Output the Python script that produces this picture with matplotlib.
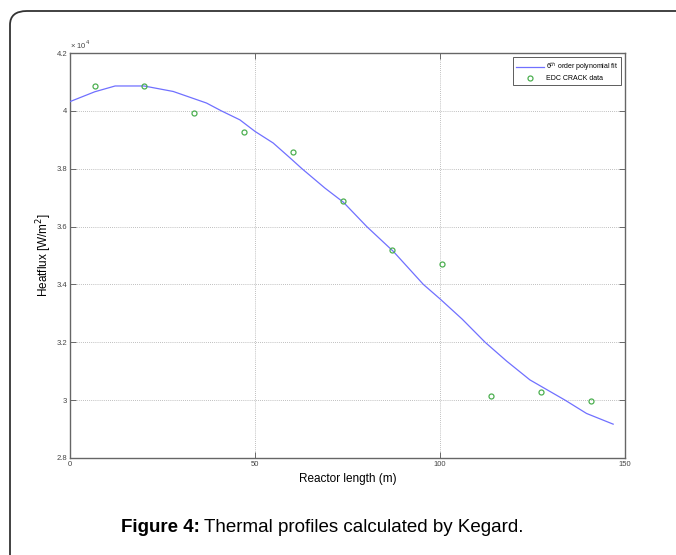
import matplotlib
matplotlib.use("Agg")
import matplotlib.pyplot as plt
from matplotlib.patches import FancyBboxPatch

plt.rcParams['font.family'] = ['Liberation Sans', 'DejaVu Sans']

# Data (values in units of 1e4 W/m^2)
data_x = [6.7, 20.1, 33.5, 46.9, 60.3, 73.7, 87.1, 100.5, 113.9, 127.3, 140.7]
data_y = [4.087, 4.087, 3.993, 3.926, 3.857, 3.688, 3.519, 3.470, 3.014, 3.029, 2.997]

fit_x = [0, 6.7, 12.2, 20, 27.9, 36.9, 40.9, 45.9, 50, 54.9, 59.5, 62.7, 68.9,
         73.9, 80.2, 87.4, 95.5, 100, 106, 112.2, 118, 124.3, 133.8, 139.6, 146.8]
fit_y = [4.032, 4.066, 4.086, 4.086, 4.067, 4.027, 4.0, 3.969, 3.929, 3.889, 3.837, 3.8, 3.733,
         3.684, 3.6, 3.514, 3.4, 3.35, 3.28, 3.2, 3.135, 3.070, 3.0, 2.954, 2.917]

xticks = [0, 50, 100, 150]
yticks = [2.8, 3.0, 3.2, 3.4, 3.6, 3.8, 4.0, 4.2]
ytick_labels = ['2.8', '3', '3.2', '3.4', '3.6', '3.8', '4', '4.2']

W, H = 676, 555
fig = plt.figure(figsize=(W / 100, H / 100), dpi=100)

# outer rounded frame (cropped at right and bottom)
frame = FancyBboxPatch((10 / W, -0.2), 1.2, (H - 11) / H + 0.2,
                       boxstyle="round,pad=0,rounding_size=0.025",
                       transform=fig.transFigure, fill=False,
                       edgecolor='#333333', linewidth=1.3, zorder=0)
fig.patches.append(frame)

ax = fig.add_axes([70 / W, 1 - 458 / H, (625 - 70) / W, (458 - 53) / H])

ax.plot(fit_x, fit_y, color='#7070ff', linewidth=0.9,
        label='6$^{th}$ order polynomial fit', zorder=3)
ax.plot(data_x, data_y, linestyle='none', marker='o', markersize=3.6,
        markerfacecolor='none', markeredgecolor='#4caf50', markeredgewidth=0.9,
        label='EDC CRACK data', zorder=4)

ax.set_xlim(0, 150)
ax.set_ylim(2.8, 4.2)
ax.set_xticks(xticks)
ax.set_yticks(yticks)
ax.set_yticklabels(ytick_labels)
ax.tick_params(direction='in', length=4, width=0.6, colors='#555555',
               labelsize=5.5, top=True, right=True, pad=2)
ax.tick_params(axis='x', labelcolor='#444444')
ax.tick_params(axis='y', labelcolor='#444444')
for s in ax.spines.values():
    s.set_color('#666666')
    s.set_linewidth(1.0)
ax.grid(True, linestyle=(0, (1, 1.5)), color='#aaaaaa', linewidth=0.6)

ax.text(0.0, 1.005, '× 10$^4$', transform=ax.transAxes, fontsize=5.5,
        color='#444444', ha='left', va='bottom')

ax.set_xlabel('Reactor length (m)', fontsize=8.5, labelpad=4)
ax.set_ylabel('Heatflux [W/m$^2$]', fontsize=8.5)
ax.yaxis.set_label_coords(-0.028, 0.5)

leg = ax.legend(loc='upper right', fontsize=5, frameon=True, fancybox=False,
                edgecolor='#333333', handlelength=4, borderpad=0.4,
                labelspacing=0.3, handletextpad=0.3, borderaxespad=0.6)
leg.get_frame().set_linewidth(0.7)

cy = 1 - 527 / H
t1 = fig.text(121 / W, cy, 'Figure 4:', fontsize=13.5, fontweight='bold',
              ha='left', va='center')
fig.canvas.draw()
bb = t1.get_window_extent(renderer=fig.canvas.get_renderer())
fig.text((bb.x1 + 4) / W, cy, 'Thermal profiles calculated by Kegard.',
         fontsize=13.5, ha='left', va='center')

fig.savefig('out.png', dpi=100)
